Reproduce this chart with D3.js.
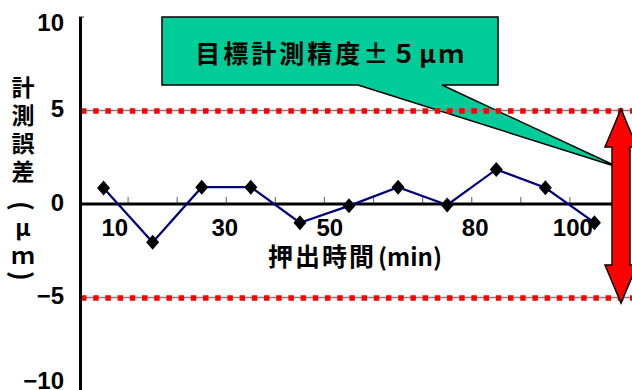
<!DOCTYPE html>
<html><head><meta charset="utf-8">
<script src="https://cdn.jsdelivr.net/npm/d3@7"></script>
<style>
html,body{margin:0;padding:0;background:#fff;}
svg{display:block;}
</style></head>
<body>
<svg id="chart" width="632" height="390"></svg>
<script>
// ---- data ----
const minutes = [10, 20, 30, 40, 50, 60, 70, 80, 90, 100, 110];
const errors  = [0.85, -2.05, 0.9, 0.9, -1.0, -0.1, 0.9, -0.05, 1.85, 0.87, -1.0];
const yTicks = [10, 5, 0, -5, -10];
const yTickText = ["10", "5", "0", "\u22125", "\u221210"];
const xLabelText = ["10", "30", "50", "80", "100"];
const xLabelAt = [12.3, 34.7, 56.1, 85.7, 105.6];
const xTickAt = [15, 25, 35, 45, 55, 65, 75, 85, 95, 105, 115];
const limits = [5, -5];
const arrowRange = [5.08, -5.3];
const calloutTip = [115, 1.95];
const yTitleChars = ["計", "測", "誤", "差", "(", "μ", "ｍ", ")"];
const xTitleJa = "押出時間";
const xTitleUnit = "(min)";
const calloutText = "目標計測精度±５μｍ";

const svg = d3.select("#chart");
const x = d3.scaleLinear().domain([5, 115]).range([79, 619]);
const y = d3.scaleLinear().domain([-10, 10]).range([391, 17]);
const jp = "'Noto Sans CJK JP','Noto Sans CJK SC',sans-serif";
const num = "'Liberation Sans',Arial,sans-serif";

// callout (drawn first, reference lines go over it)
const tipX = x(calloutTip[0]), tipY = y(calloutTip[1]);
const bx0 = 162, by0 = 17, bx1 = 498, by1 = 85;
svg.append("path")
  .attr("d", `M${bx0},${by0}H${bx1}V${by1}H442L${tipX},${tipY}L358,${by1}H${bx0}Z`)
  .attr("fill", "#00CC99").attr("stroke", "#000").attr("stroke-width", 1.5)
  .attr("stroke-linejoin", "miter");
svg.append("text").attr("x", (bx0 + bx1) / 2 + 1).attr("y", 52)
  .attr("text-anchor", "middle").attr("dominant-baseline", "central")
  .attr("font-family", jp).attr("font-weight", 700).attr("font-size", 25)
  .attr("letter-spacing", 3).text(calloutText);

// limit lines
limits.forEach(v => {
  svg.append("line").attr("x1", x(5)).attr("x2", 632).attr("y1", y(v)).attr("y2", y(v))
    .attr("stroke", "#808080").attr("stroke-width", 1.5);
  svg.append("line").attr("x1", x(5) + 2).attr("x2", 632).attr("y1", y(v) + 0.5).attr("y2", y(v) + 0.5)
    .attr("stroke", "#FF0000").attr("stroke-width", 5.5).attr("stroke-dasharray", "5.5 6.7");
});

// x-axis ticks (upward, gray)
svg.append("g").selectAll("line").data(xTickAt).join("line")
  .attr("x1", d => x(d)).attr("x2", d => x(d)).attr("y1", y(0)).attr("y2", y(0) - 7)
  .attr("stroke", "#777").attr("stroke-width", 1.2);

// y-axis inward ticks
svg.append("g").selectAll("line").data(yTicks).join("line")
  .attr("x1", x(5)).attr("x2", x(5) + 5).attr("y1", d => y(d)).attr("y2", d => y(d))
  .attr("stroke", "#555").attr("stroke-width", 1.2);

// axes lines
svg.append("line").attr("x1", x(5)).attr("x2", 616).attr("y1", y(0)).attr("y2", y(0))
  .attr("stroke", "#000").attr("stroke-width", 3);
svg.append("line").attr("x1", x(5) + 1.5).attr("x2", x(5) + 1.5).attr("y1", y(10)).attr("y2", y(-10))
  .attr("stroke", "#000").attr("stroke-width", 3);

// y tick labels
svg.append("g").selectAll("text").data(yTicks).join("text")
  .attr("x", 64).attr("y", d => Math.min(Math.max(y(d) - 2, 22), 380))
  .attr("text-anchor", "end").attr("dominant-baseline", "central")
  .attr("font-family", num).attr("font-weight", 700).attr("font-size", 24)
  .text((d, i) => yTickText[i]);

// x tick labels
svg.append("g").selectAll("text").data(xLabelAt).join("text")
  .attr("x", d => x(d)).attr("y", 227)
  .attr("text-anchor", "middle").attr("dominant-baseline", "central")
  .attr("font-family", num).attr("font-weight", 700).attr("font-size", 24)
  .text((d, i) => xLabelText[i]);

// x title
const xt = svg.append("text").attr("x", 268).attr("y", 255)
  .attr("text-anchor", "start").attr("dominant-baseline", "central")
  .attr("font-family", jp).attr("font-weight", 700);
xt.append("tspan").attr("font-size", 25).attr("letter-spacing", 2).text(xTitleJa);
xt.append("tspan").attr("font-size", 24).attr("dx", 2).text(xTitleUnit);

// y title (vertical stack); parentheses turned for vertical writing
const yt = d3.scalePoint().domain(d3.range(yTitleChars.length)).range([86, 282]);
svg.append("g").selectAll("text").data(yTitleChars).join("text")
  .attr("transform", (d, i) => {
    const isParen = d === "(" || d === ")";
    const cy = yt(i) + (d === "(" ? 8 : d === ")" ? -6 : 0);
    return `translate(23,${cy})` + (isParen ? " rotate(90)" : "");
  })
  .attr("text-anchor", "middle").attr("dominant-baseline", "central")
  .attr("font-family", jp).attr("font-weight", 700)
  .attr("font-size", d => (d === "(" || d === ")") ? 26 : 23)
  .text(d => d);

// data line
const line = d3.line().x((d, i) => x(minutes[i])).y(d => y(d));
svg.append("path").datum(errors).attr("d", line)
  .attr("fill", "none").attr("stroke", "#000080").attr("stroke-width", 2.2);

// diamonds
const diamond = { draw(ctx, s) { const w = 6.5, h = 7.5; ctx.moveTo(0, -h); ctx.lineTo(w, 0); ctx.lineTo(0, h); ctx.lineTo(-w, 0); ctx.closePath(); } };
svg.append("g").selectAll("path").data(errors).join("path")
  .attr("transform", (d, i) => `translate(${x(minutes[i])},${y(d)})`)
  .attr("d", d3.symbol().type(diamond).size(1)).attr("fill", "#000");

// double arrow
const ax = 621, sw = 9, hw = 16, hl = 38;
const t = y(arrowRange[0]), b = y(arrowRange[1]);
svg.append("path")
  .attr("d", `M${ax},${t}L${ax + hw},${t + hl}H${ax + sw}V${b - hl}H${ax + hw}L${ax},${b}L${ax - hw},${b - hl}H${ax - sw}V${t + hl}H${ax - hw}Z`)
  .attr("fill", "#FF0000").attr("stroke", "#000").attr("stroke-width", 1.5);
</script>
</body></html>
